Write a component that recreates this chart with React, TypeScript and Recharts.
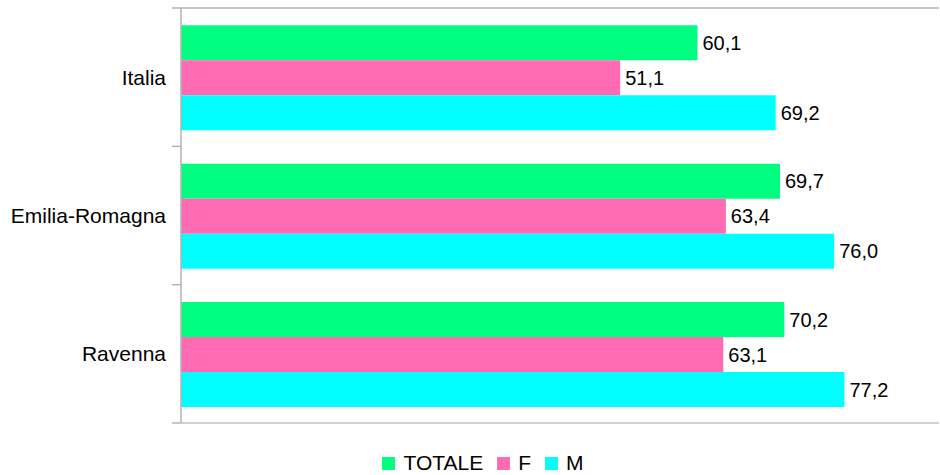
import React from "react";
import { BarChart, Bar, XAxis, YAxis, LabelList, Legend } from "recharts";

const categories = ["Italia", "Emilia-Romagna", "Ravenna"];
const totale = [60.1, 69.7, 70.2];
const femmine = [51.1, 63.4, 63.1];
const maschi = [69.2, 76.0, 77.2];
const seriesNames = ["TOTALE", "F", "M"];
const seriesColors = ["#00ff80", "#ff6ab2", "#00ffff"];

const data = categories.map((c, i) => ({
  name: c,
  TOTALE: totale[i],
  F: femmine[i],
  M: maschi[i],
}));

const fmt = (v: any) => Number(v).toFixed(1).replace(".", ",");
const font = "Liberation Sans, Arial, sans-serif";
const axisColor = "#b3b3b3";

const LegendContent = () => (
  <div
    style={{
      display: "flex",
      justifyContent: "center",
      alignItems: "center",
      height: 24,
      fontFamily: font,
      fontSize: 21,
      color: "#000",
      paddingLeft: 26,
    }}
  >
    {seriesNames.map((n, i) => (
      <div key={n} style={{ display: "flex", alignItems: "center", marginRight: i < 2 ? 14 : 0 }}>
        <span style={{ width: 13, height: 13, background: seriesColors[i], display: "inline-block", marginRight: 8 }} />
        <span>{n}</span>
      </div>
    ))}
  </div>
);

const CategoryTick = (props: any) => {
  const { x, y, payload, index, visibleTicksCount } = props;
  const half = payload && payload.offset ? payload.offset : 0;
  const isLast = index === (visibleTicksCount ?? categories.length) - 1;
  return (
    <g>
      <line x1={x - 9} x2={x} y1={y - half} y2={y - half} stroke={axisColor} strokeWidth={1.5} />
      {isLast && (
        <line x1={x - 9} x2={x} y1={y + half} y2={y + half} stroke={axisColor} strokeWidth={1.5} />
      )}
      <text x={x - 15} y={y} dy="0.355em" textAnchor="end" fill="#000" fontSize={21} fontFamily={font}>
        {payload.value}
      </text>
    </g>
  );
};

export default function App() {
  return (
    <div style={{ position: "absolute", left: 0, top: 0, background: "#fff" }}>
      <BarChart
        width={940}
        height={475}
        data={data}
        layout="vertical"
        margin={{ top: 7, right: 1, left: 0, bottom: 27 }}
        barCategoryGap="12.5%"
        barGap={0}
      >
        <XAxis
          type="number"
          domain={[0, 88.2]}
          xAxisId="bottom"
          orientation="bottom"
          height={1}
          axisLine={{ stroke: "#d0d0d0", strokeWidth: 2 }}
          tick={false}
          tickLine={false}
        />
        <XAxis
          type="number"
          domain={[0, 88.2]}
          xAxisId="top"
          orientation="top"
          height={1}
          axisLine={{ stroke: axisColor, strokeWidth: 1.5 }}
          tick={false}
          tickLine={false}
        />
        <YAxis
          yAxisId="cat"
          type="category"
          dataKey="name"
          width={181}
          axisLine={{ stroke: axisColor, strokeWidth: 1.5 }}
          tickLine={false}
          tickSize={0}
          tickMargin={0}
          tick={<CategoryTick />}
        />
        {seriesNames.map((n, i) => (
          <Bar
            key={n}
            dataKey={n}
            xAxisId="bottom"
            yAxisId="cat"
            fill={seriesColors[i]}
            isAnimationActive={false}
          >
            <LabelList
              dataKey={n}
              position="right"
              offset={5}
              formatter={fmt}
              style={{ fill: "#000", fontSize: 20, fontFamily: font }}
            />
          </Bar>
        ))}
        <Legend
          verticalAlign="bottom"
          content={<LegendContent />}
          wrapperStyle={{ left: 0, width: 940, bottom: 0 }}
        />
      </BarChart>
    </div>
  );
}
